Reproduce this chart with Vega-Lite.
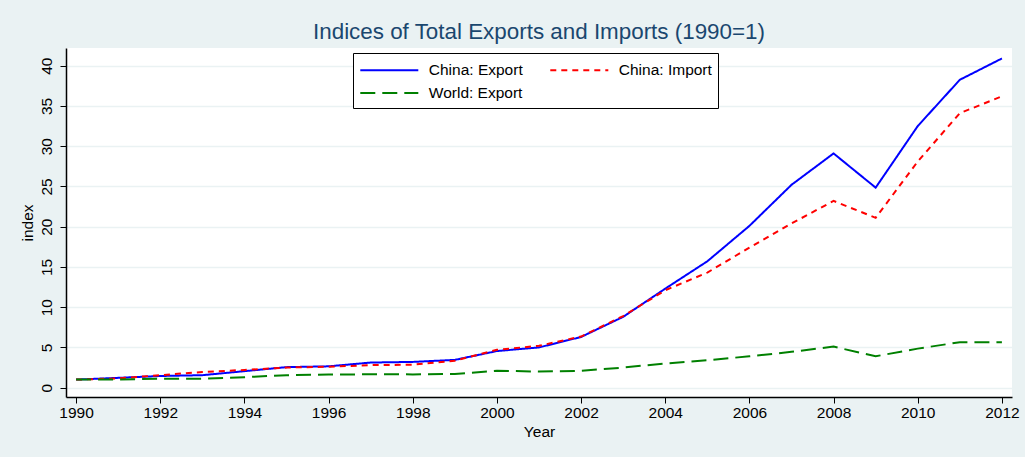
{
  "$schema": "https://vega.github.io/schema/vega-lite/v6.json",
  "width": 946,
  "height": 349,
  "autosize": {"type": "none"},
  "padding": {"left": 66, "top": 48, "right": 13, "bottom": 60},
  "background": "#EAF2F3",
  "title": {
    "text": "Indices of Total Exports and Imports (1990=1)",
    "font": "Liberation Sans",
    "fontSize": 22.4,
    "fontWeight": "normal",
    "color": "#1A476F",
    "anchor": "middle",
    "offset": 5
  },
  "config": {
    "font": "Liberation Sans",
    "view": {"fill": "white", "stroke": null}
  },
  "data": {
    "values": [
      {"year": 1990, "series": "China: Export", "value": 1.0},
      {"year": 1991, "series": "China: Export", "value": 1.22},
      {"year": 1992, "series": "China: Export", "value": 1.45},
      {"year": 1993, "series": "China: Export", "value": 1.55},
      {"year": 1994, "series": "China: Export", "value": 2.05},
      {"year": 1995, "series": "China: Export", "value": 2.55},
      {"year": 1996, "series": "China: Export", "value": 2.65},
      {"year": 1997, "series": "China: Export", "value": 3.12},
      {"year": 1998, "series": "China: Export", "value": 3.2},
      {"year": 1999, "series": "China: Export", "value": 3.45},
      {"year": 2000, "series": "China: Export", "value": 4.55},
      {"year": 2001, "series": "China: Export", "value": 5.0},
      {"year": 2002, "series": "China: Export", "value": 6.3},
      {"year": 2003, "series": "China: Export", "value": 8.8},
      {"year": 2004, "series": "China: Export", "value": 12.3},
      {"year": 2005, "series": "China: Export", "value": 15.7},
      {"year": 2006, "series": "China: Export", "value": 20.1},
      {"year": 2007, "series": "China: Export", "value": 25.2},
      {"year": 2008, "series": "China: Export", "value": 29.1},
      {"year": 2009, "series": "China: Export", "value": 24.85},
      {"year": 2010, "series": "China: Export", "value": 32.5},
      {"year": 2011, "series": "China: Export", "value": 38.25},
      {"year": 2012, "series": "China: Export", "value": 40.9},
      {"year": 1990, "series": "China: Import", "value": 1.0},
      {"year": 1991, "series": "China: Import", "value": 1.15},
      {"year": 1992, "series": "China: Import", "value": 1.55},
      {"year": 1993, "series": "China: Import", "value": 1.95},
      {"year": 1994, "series": "China: Import", "value": 2.2},
      {"year": 1995, "series": "China: Import", "value": 2.5},
      {"year": 1996, "series": "China: Import", "value": 2.6},
      {"year": 1997, "series": "China: Import", "value": 2.8},
      {"year": 1998, "series": "China: Import", "value": 2.85},
      {"year": 1999, "series": "China: Import", "value": 3.35},
      {"year": 2000, "series": "China: Import", "value": 4.7},
      {"year": 2001, "series": "China: Import", "value": 5.2},
      {"year": 2002, "series": "China: Import", "value": 6.35},
      {"year": 2003, "series": "China: Import", "value": 8.9},
      {"year": 2004, "series": "China: Import", "value": 12.1},
      {"year": 2005, "series": "China: Import", "value": 14.3},
      {"year": 2006, "series": "China: Import", "value": 17.4},
      {"year": 2007, "series": "China: Import", "value": 20.4},
      {"year": 2008, "series": "China: Import", "value": 23.2},
      {"year": 2009, "series": "China: Import", "value": 21.1},
      {"year": 2010, "series": "China: Import", "value": 28.1},
      {"year": 2011, "series": "China: Import", "value": 34.1},
      {"year": 2012, "series": "China: Import", "value": 36.2},
      {"year": 1990, "series": "World: Export", "value": 1.0},
      {"year": 1991, "series": "World: Export", "value": 1.02},
      {"year": 1992, "series": "World: Export", "value": 1.1},
      {"year": 1993, "series": "World: Export", "value": 1.1},
      {"year": 1994, "series": "World: Export", "value": 1.3},
      {"year": 1995, "series": "World: Export", "value": 1.55},
      {"year": 1996, "series": "World: Export", "value": 1.62},
      {"year": 1997, "series": "World: Export", "value": 1.66},
      {"year": 1998, "series": "World: Export", "value": 1.65},
      {"year": 1999, "series": "World: Export", "value": 1.7},
      {"year": 2000, "series": "World: Export", "value": 2.1},
      {"year": 2001, "series": "World: Export", "value": 2.0},
      {"year": 2002, "series": "World: Export", "value": 2.1},
      {"year": 2003, "series": "World: Export", "value": 2.5},
      {"year": 2004, "series": "World: Export", "value": 3.0},
      {"year": 2005, "series": "World: Export", "value": 3.4},
      {"year": 2006, "series": "World: Export", "value": 3.9},
      {"year": 2007, "series": "World: Export", "value": 4.45},
      {"year": 2008, "series": "World: Export", "value": 5.1},
      {"year": 2009, "series": "World: Export", "value": 3.9},
      {"year": 2010, "series": "World: Export", "value": 4.85},
      {"year": 2011, "series": "World: Export", "value": 5.65},
      {"year": 2012, "series": "World: Export", "value": 5.65}
    ]
  },
  "mark": {"type": "line", "strokeWidth": 2},
  "encoding": {
    "x": {
      "field": "year",
      "type": "quantitative",
      "scale": {"domain": [1989.76, 2012.24], "nice": false, "zero": false},
      "axis": {
        "title": "Year",
        "values": [1990, 1992, 1994, 1996, 1998, 2000, 2002, 2004, 2006, 2008, 2010, 2012],
        "format": "d",
        "grid": false,
        "domainColor": "#000000",
        "domainWidth": 1.5,
        "tickColor": "#000000",
        "tickSize": 6,
        "tickWidth": 1,
        "labelFontSize": 15.5,
        "labelColor": "#000000",
        "labelPadding": 2,
        "labelFlush": false,
        "titleFontSize": 15.5,
        "titleFontWeight": "normal",
        "titleColor": "#000000",
        "titlePadding": 4
      }
    },
    "y": {
      "field": "value",
      "type": "quantitative",
      "scale": {"domain": [-1.16, 42.2], "nice": false, "zero": false},
      "axis": {
        "title": "index",
        "values": [0, 5, 10, 15, 20, 25, 30, 35, 40],
        "grid": true,
        "gridColor": "#EAF2F3",
        "gridWidth": 1.5,
        "domainColor": "#000000",
        "domainWidth": 1.5,
        "tickColor": "#000000",
        "tickSize": 6,
        "tickWidth": 1,
        "labelAngle": -90,
        "labelAlign": "center",
        "labelBaseline": "bottom",
        "labelFontSize": 15.5,
        "labelColor": "#000000",
        "labelPadding": 6,
        "labelFlush": false,
        "titleFontSize": 15.5,
        "titleFontWeight": "normal",
        "titleColor": "#000000",
        "titlePadding": 4
      }
    },
    "color": {
      "field": "series",
      "type": "nominal",
      "title": null,
      "scale": {
        "domain": ["China: Export", "China: Import", "World: Export"],
        "range": ["#0000FF", "#FF0000", "#008000"]
      },
      "legend": {
        "orient": "none",
        "legendX": 287,
        "legendY": 5,
        "columns": 2,
        "direction": "horizontal",
        "fillColor": "white",
        "strokeColor": "#000000",
        "padding": 6,
        "symbolType": "M-3,0H3",
        "symbolSize": 374,
        "symbolOffset": 19.3,
        "symbolStrokeWidth": 2,
        "labelFontSize": 15.5,
        "labelColor": "#000000",
        "labelOffset": 28.5,
        "columnPadding": 23,
        "rowPadding": 3
      }
    },
    "strokeDash": {
      "field": "series",
      "type": "nominal",
      "title": null,
      "scale": {
        "domain": ["China: Export", "China: Import", "World: Export"],
        "range": [[1, 0], [6, 5], [15, 7]]
      }
    }
  }
}
